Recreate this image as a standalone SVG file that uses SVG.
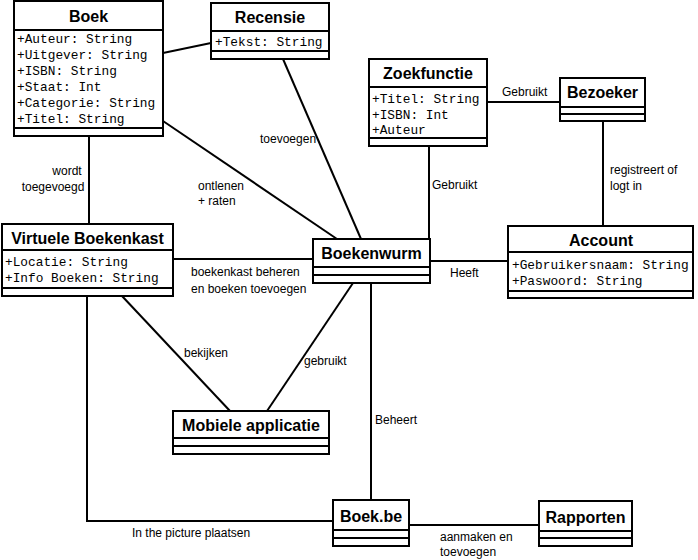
<svg xmlns="http://www.w3.org/2000/svg" width="698" height="560" viewBox="0 0 698 560">
<style>
rect.box{fill:#fff;stroke:#000;stroke-width:2}
line.sep{stroke:#000;stroke-width:2}
.title{font-family:"Liberation Sans",Arial,sans-serif;font-weight:bold;font-size:16px;text-anchor:middle;fill:#000}
.attr{font-family:"Liberation Mono","Courier New",monospace;font-size:12.8px;fill:#000}
.lbl{font-family:"Liberation Sans",Arial,sans-serif;font-size:12px;fill:#000}
#connectors path,#connectors line{stroke:#000;stroke-width:2;fill:none}
</style>
<rect width="698" height="560" fill="#fff"/>
<g id="connectors">
<line x1="163" y1="53" x2="211" y2="43"/>
<line x1="163" y1="121" x2="337" y2="239"/>
<line x1="283" y1="59" x2="361" y2="239"/>
<line x1="89" y1="136" x2="89" y2="224"/>
<line x1="429" y1="146" x2="429" y2="239"/>
<line x1="487" y1="102" x2="560" y2="102"/>
<line x1="603" y1="121" x2="603" y2="226"/>
<line x1="173" y1="259" x2="313" y2="259"/>
<line x1="430" y1="261" x2="508" y2="261"/>
<line x1="122" y1="296" x2="230" y2="411"/>
<line x1="353" y1="283" x2="267" y2="411"/>
<line x1="371" y1="283" x2="371" y2="500"/>
<path d="M87 296 V521 H333"/>
<line x1="409" y1="525" x2="539" y2="525"/>
<text class="lbl" x="67" y="175" text-anchor="middle">wordt</text>
<text class="lbl" x="53" y="191" text-anchor="middle">toegevoegd</text>
<text class="lbl" x="198" y="190">ontlenen</text>
<text class="lbl" x="198" y="205">+ raten</text>
<text class="lbl" x="260" y="143">toevoegen</text>
<text class="lbl" x="502" y="96">Gebruikt</text>
<text class="lbl" x="432" y="189">Gebruikt</text>
<text class="lbl" x="610" y="174">registreert of</text>
<text class="lbl" x="610" y="190">logt in</text>
<text class="lbl" x="191" y="276">boekenkast beheren</text>
<text class="lbl" x="191" y="293">en boeken toevoegen</text>
<text class="lbl" x="450" y="277">Heeft</text>
<text class="lbl" x="184" y="357">bekijken</text>
<text class="lbl" x="304" y="365">gebruikt</text>
<text class="lbl" x="375" y="424">Beheert</text>
<text class="lbl" x="132" y="537">In the picture plaatsen</text>
<text class="lbl" x="440" y="541">aanmaken en</text>
<text class="lbl" x="440" y="556">toevoegen</text>
</g>
<g id="boek">
<rect class="box" x="14" y="1" width="149" height="135"/>
<line class="sep" x1="14" y1="30" x2="163" y2="30"/>
<line class="sep" x1="14" y1="128" x2="163" y2="128"/>
<text class="title" x="88.5" y="22">Boek</text>
<text class="attr" x="17" y="43">+Auteur: String</text>
<text class="attr" x="17" y="59">+Uitgever: String</text>
<text class="attr" x="17" y="75">+ISBN: String</text>
<text class="attr" x="17" y="91">+Staat: Int</text>
<text class="attr" x="17" y="107">+Categorie: String</text>
<text class="attr" x="17" y="123">+Titel: String</text>
</g>
<g id="recensie">
<rect class="box" x="211" y="3" width="118" height="56"/>
<line class="sep" x1="211" y1="31" x2="329" y2="31"/>
<line class="sep" x1="211" y1="51" x2="329" y2="51"/>
<text class="title" x="270" y="23">Recensie</text>
<text class="attr" x="215" y="46">+Tekst: String</text>
</g>
<g id="zoekfunctie">
<rect class="box" x="369" y="59" width="118" height="87"/>
<line class="sep" x1="369" y1="87" x2="487" y2="87"/>
<line class="sep" x1="369" y1="138" x2="487" y2="138"/>
<text class="title" x="428" y="79">Zoekfunctie</text>
<text class="attr" x="372" y="103">+Titel: String</text>
<text class="attr" x="372" y="119">+ISBN: Int</text>
<text class="attr" x="372" y="134">+Auteur</text>
</g>
<g id="bezoeker">
<rect class="box" x="560" y="78" width="85" height="43"/>
<line class="sep" x1="560" y1="107" x2="645" y2="107"/>
<line class="sep" x1="560" y1="114" x2="645" y2="114"/>
<text class="title" x="602.5" y="98">Bezoeker</text>
</g>
<g id="virtuele-boekenkast">
<rect class="box" x="2" y="224" width="171" height="72"/>
<line class="sep" x1="2" y1="250" x2="173" y2="250"/>
<line class="sep" x1="2" y1="288" x2="173" y2="288"/>
<text class="title" x="87.5" y="244">Virtuele Boekenkast</text>
<text class="attr" x="5" y="266">+Locatie: String</text>
<text class="attr" x="5" y="282">+Info Boeken: String</text>
</g>
<g id="boekenwurm">
<rect class="box" x="313" y="239" width="117" height="44"/>
<line class="sep" x1="313" y1="267" x2="430" y2="267"/>
<line class="sep" x1="313" y1="275" x2="430" y2="275"/>
<text class="title" x="371.5" y="259">Boekenwurm</text>
</g>
<g id="account">
<rect class="box" x="508" y="226" width="185" height="72"/>
<line class="sep" x1="508" y1="252" x2="693" y2="252"/>
<line class="sep" x1="508" y1="291" x2="693" y2="291"/>
<text class="title" x="601" y="246">Account</text>
<text class="attr" x="512" y="269">+Gebruikersnaam: String</text>
<text class="attr" x="512" y="285">+Paswoord: String</text>
</g>
<g id="mobiele-applicatie">
<rect class="box" x="173" y="411" width="156" height="43"/>
<line class="sep" x1="173" y1="438" x2="329" y2="438"/>
<line class="sep" x1="173" y1="446" x2="329" y2="446"/>
<text class="title" x="251" y="431">Mobiele applicatie</text>
</g>
<g id="boek-be">
<rect class="box" x="333" y="500" width="76" height="46"/>
<line class="sep" x1="333" y1="530" x2="409" y2="530"/>
<line class="sep" x1="333" y1="538" x2="409" y2="538"/>
<text class="title" x="371" y="522">Boek.be</text>
</g>
<g id="rapporten">
<rect class="box" x="539" y="501" width="93" height="45"/>
<line class="sep" x1="539" y1="531" x2="632" y2="531"/>
<line class="sep" x1="539" y1="538" x2="632" y2="538"/>
<text class="title" x="585.5" y="523">Rapporten</text>
</g>
</svg>
